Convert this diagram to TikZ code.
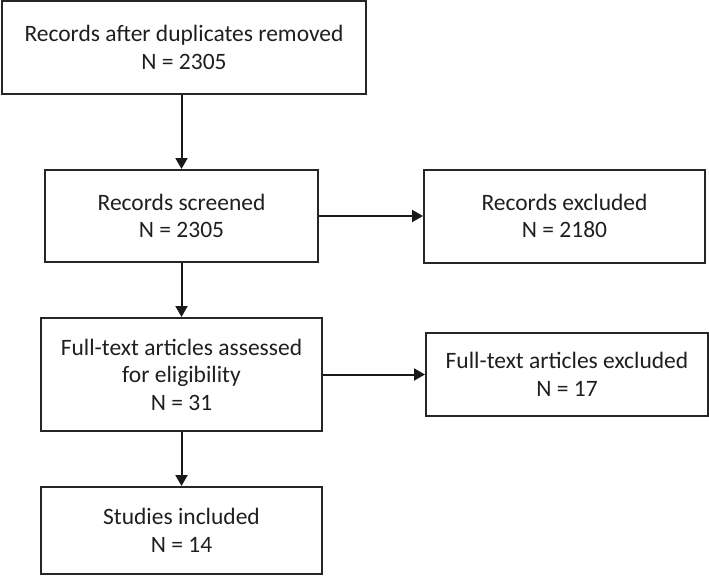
\documentclass[tikz,border=0pt]{standalone}
\usepackage{fontspec}
\setmainfont{Carlito}
\usetikzlibrary{arrows.meta}
\begin{document}
\begin{tikzpicture}[x=1pt,y=-1pt,
  box/.style={draw=black!85,line width=2pt,rectangle,align=center,inner sep=0pt,
    font=\fontsize{23.5}{27.5}\selectfont,text=black!88},
  arr/.style={draw=black!90,line width=2pt,-{Triangle[width=12pt,length=11pt]}}]
\useasboundingbox (0,0) rectangle (709,576);
\node[box,minimum width=364pt,minimum height=93pt] (b1) at (184,47.5) {Records after duplicates removed\\N = 2305};
\node[box,minimum width=273pt,minimum height=92pt] (b2) at (181.5,216) {Records screened\\N = 2305};
\node[box,minimum width=281pt,minimum height=93pt] (b3) at (564.5,216) {Records excluded\\N = 2180};
\node[box,minimum width=281pt,minimum height=113pt] (b4) at (181.5,374.5) {Full-text articles assessed\\for eligibility\\N = 31};
\node[box,minimum width=282pt,minimum height=83pt] (b5) at (567,374.5) {Full-text articles excluded\\N = 17};
\node[box,minimum width=281pt,minimum height=87pt] (b6) at (181.5,530.5) {Studies included\\N = 14};
\draw[arr] (b1.south -| b2.north) -- (b2.north);
\draw[arr] (b2.east) -- (b3.west);
\draw[arr] (b2.south) -- (b4.north);
\draw[arr] (b4.east) -- (b5.west);
\draw[arr] (b4.south) -- (b6.north);
\end{tikzpicture}
\end{document}
